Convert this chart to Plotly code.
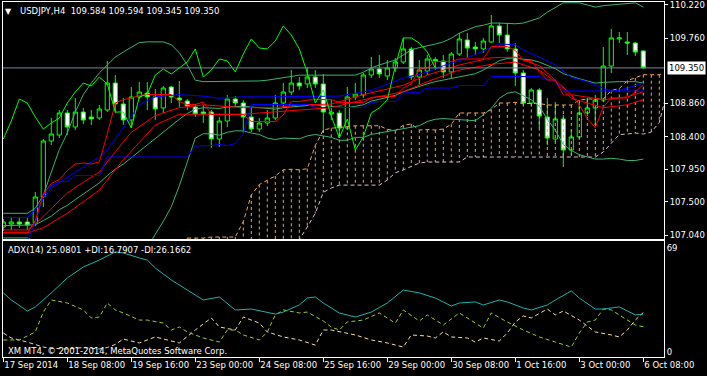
import plotly.graph_objects as go

# ---------------- data ----------------
tick_bars = [0, 8, 16, 24, 32, 40, 48, 56, 64, 72, 80]
tick_labels = ["17 Sep 2014", "18 Sep 08:00", "19 Sep 16:00", "23 Sep 00:00", "24 Sep 08:00",
               "25 Sep 16:00", "29 Sep 00:00", "30 Sep 08:00", "1 Oct 16:00", "3 Oct 00:00", "6 Oct 08:00"]
price_ticks = [110.220, 109.760, 108.860, 108.400, 107.950, 107.500, 107.040]
adx_ticks = [0, 69]
last_price = 109.350

opens = [107.151, 107.192, 107.220, 107.220, 107.206, 107.566, 108.340, 108.422, 108.727, 108.533,
         108.740, 108.671, 108.658, 108.768, 109.141, 108.851, 108.630, 108.948, 109.003, 108.948,
         108.796, 109.086, 108.934, 108.893, 108.810, 108.740, 108.740, 108.367, 108.616, 108.920,
         108.865, 108.671, 108.505, 108.588, 108.658, 108.865, 109.017, 109.141, 109.128, 109.224,
         109.128, 108.713, 108.727, 108.519, 108.948, 108.976, 109.252, 109.335, 109.238, 109.349,
         109.432, 109.612, 109.224, 109.307, 109.466, 109.446, 109.294, 109.542, 109.736, 109.639,
         109.612, 109.708, 109.930, 109.805, 109.612, 109.280, 108.865, 109.045, 108.671, 108.367,
         108.644, 108.215, 108.395, 108.727, 108.796, 108.906, 109.376, 109.750, 109.708, 109.694,
         109.584]
highs = [107.261, 107.289, 107.289, 107.275, 107.635, 108.367, 108.658, 108.768, 108.768, 108.934,
         108.796, 108.768, 108.837, 109.446, 109.252, 108.934, 109.086, 109.155, 109.155, 109.059,
         109.100, 109.100, 109.169, 108.920, 108.851, 108.837, 108.768, 108.671, 108.976, 108.962,
         108.906, 108.810, 108.658, 108.768, 108.976, 109.141, 109.321, 109.224, 109.363, 109.321,
         109.266, 108.906, 108.768, 109.086, 109.141, 109.280, 109.501, 109.529, 109.459, 109.487,
         109.764, 109.639, 109.459, 109.529, 109.501, 109.529, 109.570, 109.833, 109.833, 109.708,
         109.764, 110.082, 109.971, 109.971, 109.694, 109.321, 109.072, 109.072, 108.934, 108.879,
         108.699, 108.492, 108.865, 108.934, 108.976, 109.639, 109.888, 109.847, 109.847, 109.708,
         109.594]
lows = [107.095, 107.109, 107.137, 107.109, 107.164, 107.427, 108.284, 108.381, 108.422, 108.492,
        108.575, 108.561, 108.630, 108.740, 108.727, 108.561, 108.519, 108.920, 108.768, 108.630,
        108.727, 108.865, 108.810, 108.768, 108.671, 108.588, 108.243, 108.257, 108.533, 108.810,
        108.450, 108.464, 108.464, 108.547, 108.630, 108.796, 108.976, 109.045, 109.072, 109.072,
        108.464, 108.630, 108.381, 108.492, 108.906, 108.934, 109.211, 109.211, 109.183, 109.294,
        109.404, 109.183, 109.114, 109.252, 109.321, 109.211, 109.211, 109.515, 109.487, 109.529,
        109.556, 109.694, 109.694, 109.570, 109.100, 108.823, 108.823, 108.519, 108.284, 108.326,
        107.980, 108.146, 108.353, 108.685, 108.561, 108.879, 109.280, 109.694, 109.529, 109.515,
        109.345]
closes = [107.220, 107.220, 107.192, 107.178, 107.566, 108.340, 108.436, 108.727, 108.533, 108.740,
          108.630, 108.644, 108.782, 109.141, 108.851, 108.630, 108.948, 109.017, 108.948, 108.782,
          109.072, 108.948, 108.906, 108.823, 108.713, 108.713, 108.367, 108.616, 108.920, 108.865,
          108.671, 108.505, 108.588, 108.658, 108.865, 109.017, 109.141, 109.100, 109.224, 109.128,
          108.740, 108.740, 108.519, 108.948, 108.989, 109.252, 109.335, 109.266, 109.349, 109.432,
          109.612, 109.224, 109.321, 109.473, 109.446, 109.294, 109.542, 109.750, 109.625, 109.612,
          109.722, 109.930, 109.805, 109.612, 109.280, 108.865, 109.045, 108.685, 108.381, 108.644,
          108.215, 108.395, 108.727, 108.796, 108.906, 109.376, 109.764, 109.764, 109.694, 109.570,
          109.350]

tenkan = [107.068, 107.068, 107.068, 107.068, 107.240, 107.607, 107.752, 107.807, 107.932, 108.022,
          108.035, 108.022, 108.049, 108.436, 108.865, 108.913, 108.934, 108.969, 108.982, 108.982,
          108.982, 108.982, 108.886, 108.844, 108.844, 108.879, 108.706, 108.706, 108.706, 108.706,
          108.706, 108.609, 108.609, 108.609, 108.609, 108.699, 108.886, 108.886, 108.906, 108.913,
          108.913, 108.913, 108.872, 108.872, 108.872, 108.872, 108.941, 108.955, 108.955, 108.955,
          109.072, 109.128, 109.335, 109.349, 109.439, 109.439, 109.439, 109.473, 109.473, 109.473,
          109.473, 109.646, 109.646, 109.646, 109.591, 109.453, 109.453, 109.300, 109.183, 109.183,
          108.976, 108.976, 108.837, 108.651, 108.526, 108.810, 108.934, 108.934, 108.934, 109.017,
          109.121]
kijun = [106.957, 106.957, 106.957, 106.957, 107.213, 107.579, 107.724, 107.780, 107.780, 107.863,
         107.863, 107.863, 107.863, 108.118, 108.118, 108.118, 108.118, 108.118, 108.118, 108.118,
         108.118, 108.118, 108.118, 108.118, 108.270, 108.270, 108.277, 108.291, 108.277, 108.305,
         108.436, 108.844, 108.844, 108.844, 108.844, 108.844, 108.844, 108.844, 108.844, 108.803,
         108.803, 108.803, 108.803, 108.803, 108.803, 108.803, 108.872, 108.886, 108.886, 108.886,
         109.003, 109.003, 109.010, 109.072, 109.072, 109.072, 109.072, 109.107, 109.107, 109.107,
         109.107, 109.231, 109.231, 109.231, 109.231, 109.231, 109.231, 109.231, 109.183, 109.183,
         109.031, 109.031, 109.031, 109.031, 109.031, 109.031, 109.031, 109.031, 109.031, 109.031,
         109.031]

cloud_start = 23
span_a = [106.998, 106.998, 106.998, 107.012, 107.012, 107.012, 107.012, 107.227, 107.593, 107.738,
          107.793, 107.856, 107.942, 107.949, 107.942, 107.956, 108.277, 108.492, 108.516, 108.526,
          108.543, 108.550, 108.550, 108.550, 108.550, 108.502, 108.481, 108.557, 108.575, 108.492,
          108.498, 108.492, 108.505, 108.571, 108.727, 108.727, 108.727, 108.727, 108.772, 108.865,
          108.865, 108.875, 108.858, 108.858, 108.858, 108.837, 108.837, 108.837, 108.837, 108.906,
          108.920, 108.920, 108.920, 109.038, 109.065, 109.173, 109.211, 109.256, 109.256, 109.256,
          109.290]
span_b = [106.60, 106.60, 106.60, 106.60, 106.60, 106.60, 106.60, 106.60, 106.60, 106.60,
          106.60, 106.60, 106.60, 106.85, 106.98, 107.15, 107.34, 107.63, 107.69, 107.73,
          107.73, 107.73, 107.73, 107.73, 107.73, 107.80, 107.90, 107.94, 107.99, 108.035,
          108.049, 108.049, 108.049, 108.049, 108.049, 108.118, 108.118, 108.118, 108.118, 108.118,
          108.118, 108.118, 108.118, 108.118, 108.118, 108.118, 108.118, 108.118, 108.118, 108.118,
          108.118, 108.118, 108.188, 108.305, 108.429, 108.436, 108.450, 108.436, 108.464, 108.595,
          109.038]
chikou_lag = 26

bb_upper = [107.34, 107.34, 107.34, 107.34, 107.41, 107.59, 107.91, 108.22, 108.45, 108.74,
            108.98, 109.14, 109.28, 109.39, 109.50, 109.57, 109.64, 109.70, 109.71, 109.71,
            109.71, 109.67, 109.56, 109.39, 109.18, 109.16, 109.16, 109.16, 109.16, 109.16,
            109.16, 109.17, 109.17, 109.18, 109.20, 109.22, 109.24, 109.25, 109.25, 109.25,
            109.25, 109.25, 109.25, 109.25, 109.25, 109.29, 109.35, 109.39, 109.43, 109.46,
            109.53, 109.60, 109.63, 109.65, 109.68, 109.71, 109.76, 109.83, 109.87, 109.92,
            109.94, 109.97, 109.97, 109.96, 109.96, 109.97, 110.01, 110.04, 110.12, 110.19,
            110.25, 110.25, 110.25, 110.22, 110.19, 110.21, 110.22, 110.23, 110.25, 110.25,
            110.19]
bb_mid = [107.17, 107.17, 107.17, 107.17, 107.18, 107.24, 107.30, 107.39, 107.45, 107.53,
          107.61, 107.68, 107.76, 107.86, 107.95, 108.02, 108.11, 108.20, 108.29, 108.38,
          108.47, 108.55, 108.64, 108.72, 108.78, 108.80, 108.80, 108.79, 108.81, 108.82,
          108.82, 108.81, 108.80, 108.78, 108.78, 108.80, 108.81, 108.81, 108.83, 108.84,
          108.83, 108.82, 108.80, 108.80, 108.82, 108.84, 108.89, 108.92, 108.95, 108.97,
          109.02, 109.06, 109.09, 109.13, 109.16, 109.18, 109.20, 109.23, 109.25, 109.27,
          109.32, 109.38, 109.45, 109.48, 109.49, 109.47, 109.46, 109.43, 109.38, 109.34,
          109.27, 109.23, 109.20, 109.17, 109.14, 109.15, 109.16, 109.16, 109.16, 109.16,
          109.14]
bb_lower = [107.00, 107.00, 107.00, 107.00, 106.95, 106.89, 106.69, 106.56, 106.45, 106.32,
            106.24, 106.22, 106.24, 106.33, 106.40, 106.47, 106.58, 106.70, 106.87, 107.05,
            107.23, 107.43, 107.72, 108.05, 108.38, 108.44, 108.44, 108.42, 108.46, 108.48,
            108.48, 108.45, 108.43, 108.38, 108.36, 108.38, 108.38, 108.37, 108.41, 108.43,
            108.41, 108.39, 108.35, 108.35, 108.39, 108.39, 108.43, 108.45, 108.47, 108.48,
            108.51, 108.52, 108.55, 108.61, 108.64, 108.65, 108.64, 108.63, 108.63, 108.62,
            108.70, 108.79, 108.93, 109.00, 109.02, 108.97, 108.91, 108.82, 108.64, 108.49,
            108.29, 108.21, 108.15, 108.12, 108.09, 108.09, 108.10, 108.09, 108.07, 108.07,
            108.09]

blue_ma_bars = [0, 3, 4, 6, 9, 12, 13, 15, 17, 19, 22, 25, 27, 30, 33, 38, 42, 46, 50, 53, 55, 58,
                61, 62, 64, 65, 67, 69, 71, 73, 75, 76, 78, 80]
blue_ma = [107.28, 107.28, 107.39, 107.69, 107.91, 108.12, 108.22, 108.52, 108.84, 108.95, 108.98,
           108.96, 108.93, 108.95, 108.95, 108.95, 108.96, 109.04, 109.21, 109.29, 109.38, 109.49,
           109.64, 109.68, 109.67, 109.60, 109.50, 109.39, 109.22, 109.16, 109.07, 109.02, 109.07,
           109.14]
red_ma_a_bars = [0, 3, 4, 6, 8, 10, 12, 14, 16, 19, 22, 25, 30, 34, 37, 41, 45, 50, 53, 57, 61, 64,
                 67, 69, 71, 75, 78, 80]
red_ma_a = [107.11, 107.11, 107.19, 107.41, 107.62, 107.77, 107.91, 108.19, 108.46, 108.69, 108.80,
            108.84, 108.80, 108.80, 108.84, 108.85, 108.98, 109.11, 109.25, 109.39, 109.49, 109.50,
            109.38, 109.18, 108.98, 108.91, 108.95, 109.02]
red_ma_b_bars = [0, 3, 5, 8, 12, 15, 19, 22, 30, 34, 37, 41, 45, 50, 53, 57, 61, 64, 67, 69, 71,
                 75, 78, 80]
red_ma_b = [107.07, 107.07, 107.14, 107.34, 107.66, 108.08, 108.56, 108.71, 108.71, 108.74, 108.77,
            108.80, 108.91, 109.02, 109.16, 109.32, 109.40, 109.43, 109.32, 109.16, 108.93, 108.80,
            108.84, 108.91]

adx_bars = [0, 1, 3, 4, 6, 8, 10, 12, 14, 15, 17, 18, 19, 21, 24, 25, 27, 28, 29, 31, 33, 34, 35,
            37, 38, 39, 40, 42, 44, 46, 48, 50, 52, 54, 56, 57, 59, 60, 62, 63, 65, 66, 68, 69, 71,
            72, 74, 75, 77, 78, 79, 80]
adx = [39.2, 34.5, 27.2, 29.9, 39.2, 49.1, 56.4, 61.0, 66.4, 65.7, 62.4, 61.0, 55.7, 47.8, 37.8,
       34.5, 36.5, 32.5, 27.9, 28.5, 26.5, 25.2, 26.5, 31.2, 35.8, 36.5, 32.5, 25.9, 23.2, 26.5,
       32.5, 41.1, 39.2, 35.8, 30.5, 32.5, 33.2, 31.2, 34.5, 33.2, 29.2, 27.9, 31.2, 34.5, 40.5,
       35.8, 28.5, 28.5, 29.9, 27.2, 24.6, 25.08]
plus_di_bars = [0, 2, 4, 5, 6, 8, 10, 11, 12, 13, 14, 15, 17, 18, 20, 21, 22, 23, 25, 27, 28, 29,
                30, 32, 33, 34, 35, 37, 38, 40, 41, 42, 43, 45, 47, 49, 50, 52, 53, 55, 57, 59, 60,
                61, 63, 65, 67, 69, 71, 72, 73, 74, 75, 76, 78, 79, 80]
plus_di = [8.0, 8.0, 13.3, 26.5, 34.5, 32.5, 27.9, 22.6, 23.2, 32.5, 27.9, 25.9, 21.2, 21.2, 19.2,
           14.6, 16.6, 13.3, 9.3, 6.6, 14.6, 14.6, 11.3, 8.0, 13.3, 24.6, 27.9, 25.9, 26.5, 20.6,
           16.6, 14.6, 19.9, 21.2, 25.9, 19.2, 27.9, 20.6, 24.6, 17.9, 25.9, 19.2, 15.9, 25.9, 19.9,
           14.6, 10.0, 6.6, 3.3, 12.6, 19.9, 21.2, 28.5, 27.9, 21.2, 17.9, 16.79]
minus_di_bars = [0, 1, 3, 5, 6, 7, 8, 9, 10, 11, 12, 13, 14, 15, 17, 19, 20, 22, 24, 26, 27, 29,
                 30, 32, 33, 35, 37, 39, 40, 41, 44, 46, 48, 50, 51, 53, 54, 55, 56, 58, 59, 60,
                 62, 63, 64, 65, 66, 68, 69, 70, 72, 73, 74, 76, 77, 78, 79, 80]
minus_di = [12.6, 9.3, 6.6, 3.3, 2.5, 2.0, 2.0, 2.5, 3.0, 2.5, 2.0, 3.0, 5.0, 8.6, 6.0, 10.0, 8.6,
            6.0, 14.6, 22.6, 16.6, 14.6, 23.2, 19.2, 13.3, 10.0, 8.0, 4.6, 14.6, 14.6, 11.3, 8.0,
            6.0, 3.3, 11.3, 10.6, 9.3, 13.3, 10.0, 9.3, 6.6, 9.3, 7.3, 12.6, 19.9, 23.9, 22.6, 28.5,
            24.6, 27.2, 21.2, 17.3, 13.3, 11.3, 10.0, 14.6, 21.2, 26.17]

header = "USDJPY,H4\u00a0\u00a0109.584 109.594 109.345 109.350"
adx_label = "ADX(14) 25.0801 +DI:16.7907 -DI:26.1662"
copyright_label = "XM MT4, \u00a9 2001-2014, MetaQuotes Software Corp."

# ---------------- styles ----------------
LIME = "#00FF00"
SEA = "#3CB371"
RED = "#FF0000"
BLUE = "#0000FF"
SANDY = "#F4A460"
THISTLE = "#D8BFD8"
FONT = "DejaVu Sans, Verdana, sans-serif"
FS = 8.5

bars = list(range(len(opens)))
cloud_bars = list(range(cloud_start, cloud_start + len(span_a)))

fig = go.Figure()


def line(x, y, color, dash=None, axes=("x", "y"), width=1):
    fig.add_trace(go.Scatter(x=x, y=y, mode="lines", xaxis=axes[0], yaxis=axes[1],
                             line=dict(color=color, width=width, dash=dash),
                             hoverinfo="skip"))


# ichimoku cloud hatch
hx, hy = [], []
for b, a, s in zip(cloud_bars, span_a, span_b):
    hx += [b, b, None]
    hy += [a, s, None]
line(hx, hy, SANDY, dash="3px,3px")
line(cloud_bars, span_b, THISTLE, dash="4px,3px")
line(cloud_bars, span_a, SANDY, dash="4px,3px")

fig.add_trace(go.Candlestick(
    x=bars, open=opens, high=highs, low=lows, close=closes, xaxis="x", yaxis="y",
    increasing=dict(line=dict(color=LIME, width=1), fillcolor="#000000"),
    decreasing=dict(line=dict(color=LIME, width=1), fillcolor="#FFFFFF"),
    whiskerwidth=0, hoverinfo="skip"))

line(bars, bb_upper, SEA)
line(bars, bb_mid, SEA)
line(bars, bb_lower, SEA)
line(red_ma_b_bars, red_ma_b, RED)
line(red_ma_a_bars, red_ma_a, RED)
line(blue_ma_bars, blue_ma, BLUE)
line(bars, kijun, BLUE)
line(bars, tenkan, RED)
line([b - chikou_lag for b in bars[chikou_lag:]], closes[chikou_lag:], LIME)

# ADX panel
line(minus_di_bars, minus_di, "#F5DEB3", dash="4px,3px", axes=("x2", "y2"))
line(plus_di_bars, plus_di, "#9ACD32", dash="4px,3px", axes=("x2", "y2"))
line(adx_bars, adx, "#20B2AA", axes=("x2", "y2"))

xr = [-0.0375, 82.5875]
axis_common = dict(showgrid=False, zeroline=False, showline=True, mirror=True,
                   linecolor="white", linewidth=1, tickcolor="white",
                   ticklabeloverflow="allow",
                   tickfont=dict(family=FONT, size=FS, color="white"))

fig.update_layout(
    width=707, height=376, margin=dict(l=3, r=43, t=2, b=19, autoexpand=False),
    paper_bgcolor="black", plot_bgcolor="black", showlegend=False, boxgap=0.25,
    font=dict(family=FONT, size=FS, color="white"),
    xaxis=dict(domain=[0, 1], range=xr, anchor="y", showticklabels=False, ticks="",
               rangeslider=dict(visible=False), **axis_common),
    yaxis=dict(domain=[0.3324, 1], range=[106.985, 110.261], anchor="x", side="right",
               tickvals=price_ticks, ticktext=[f"{v:.3f}" for v in price_ticks],
               ticks="outside", ticklen=3, **axis_common),
    xaxis2=dict(domain=[0, 1], range=xr, anchor="y2", tickvals=tick_bars, ticktext=tick_labels,
                ticks="outside", ticklen=4, ticklabelposition="outside right", tickangle=0,
                **axis_common),
    yaxis2=dict(domain=[0, 0.3254], range=[-3.3, 73.3], anchor="x2", side="right",
                tickvals=adx_ticks, ticktext=[str(v) for v in adx_ticks],
                ticks="", **axis_common),
)

fig.add_shape(type="line", xref="x domain", yref="y", x0=0, x1=1, y0=last_price, y1=last_price,
              line=dict(color="#778899", width=1))

fig.add_annotation(xref="paper", yref="y", x=1, y=last_price, xanchor="left", yanchor="middle",
                   xshift=3, text=f"{last_price:.3f}", showarrow=False, bgcolor="white",
                   borderpad=1, font=dict(family=FONT, size=FS, color="black"))
fig.add_annotation(xref="paper", yref="paper", x=0.0083, y=0.9746, xanchor="center",
                   yanchor="middle", text="\u25bc", showarrow=False,
                   font=dict(family="DejaVu Sans", size=8, color="white"))
fig.add_annotation(xref="paper", yref="paper", x=0.0227, y=0.9746, xanchor="left",
                   yanchor="middle", text=header, showarrow=False,
                   font=dict(family=FONT, size=FS, color="white"))
fig.add_annotation(xref="paper", yref="paper", x=0.0045, y=0.300, xanchor="left",
                   yanchor="middle", text=adx_label, showarrow=False,
                   font=dict(family=FONT, size=FS, color="white"))
fig.add_annotation(xref="paper", yref="paper", x=0.0045, y=0.0183, xanchor="left",
                   yanchor="middle", text=copyright_label, showarrow=False,
                   font=dict(family=FONT, size=FS, color="white"))

fig.write_html("out.html", config={"displayModeBar": False},
               post_script="document.body.style.margin='0px';document.body.style.padding='0px';")
